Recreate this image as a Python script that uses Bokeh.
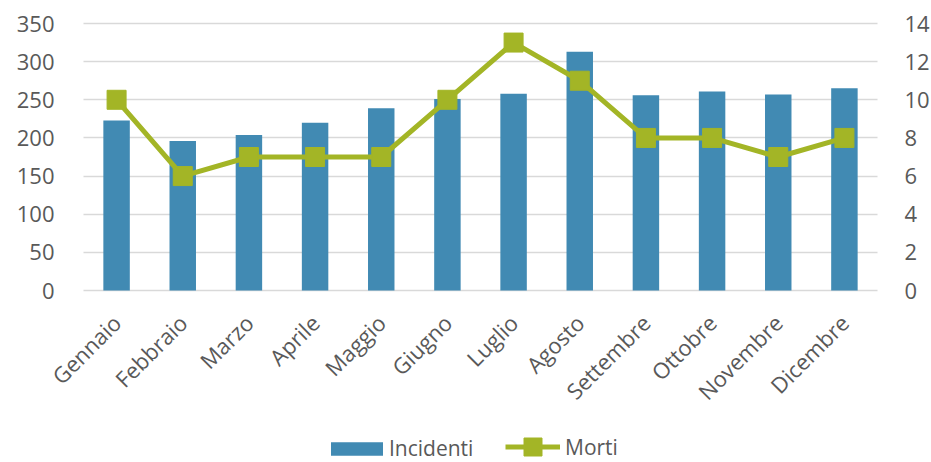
from bokeh.plotting import figure
from bokeh.models import (Range1d, LinearAxis, FixedTicker, Legend, LegendItem)
from bokeh.embed import file_html
from bokeh.resources import INLINE

months = ["Gennaio", "Febbraio", "Marzo", "Aprile", "Maggio", "Giugno",
          "Luglio", "Agosto", "Settembre", "Ottobre", "Novembre", "Dicembre"]
incidenti = [223, 196, 204, 220, 239, 251, 258, 313, 256, 261, 257, 265]
morti = [10, 6, 7, 7, 7, 10, 13, 11, 8, 8, 7, 8]
left_ticks = [0, 50, 100, 150, 200, 250, 300, 350]
right_ticks = [0, 2, 4, 6, 8, 10, 12, 14]
LEFT_MAX = 350
RIGHT_MAX = 14
xs = list(range(len(months)))

BLUE = "#418ab3"
GREEN = "#a3b526"
TXT = "#595959"
FONT = "Open Sans"
FS = "22px"

# layout in pixels: whole canvas is the frame; plot area 83..877 x 23..290
W, H = 931, 462
PL, PR, PT, PB = 83, 877, 23, 290
n = len(months)
px_cat = (PR - PL) / n
x_start = -0.5 - PL / px_cat
x_end = (n - 0.5) + (W - PR) / px_cat
px_unit = (PB - PT) / LEFT_MAX
y_top = LEFT_MAX + PT / px_unit
y_bot = -(H - PB) / px_unit
k = RIGHT_MAX / LEFT_MAX

p = figure(width=W, height=H, output_backend="svg", toolbar_location=None,
           x_range=Range1d(x_start, x_end), y_range=Range1d(y_bot, y_top))
p.extra_y_ranges = {"morti": Range1d(y_bot * k, y_top * k)}
p.min_border_left = 0
p.min_border_right = 0
p.min_border_top = 0
p.min_border_bottom = 0
p.outline_line_color = None
p.background_fill_color = "white"
p.border_fill_color = "white"

bars = p.vbar(x=xs, top=incidenti, width=0.4, color=BLUE, line_color=None)
line = p.line(x=xs, y=morti, y_range_name="morti", color=GREEN, line_width=5)
pts = p.scatter(x=xs, y=morti, y_range_name="morti", marker="square",
                size=19, color=GREEN, line_color=GREEN)

def style(ax, standoff):
    ax.axis_line_color = None
    ax.major_tick_line_color = None
    ax.minor_tick_line_color = None
    ax.major_label_text_font = FONT
    ax.major_label_text_font_size = FS
    ax.major_label_text_color = TXT
    ax.major_label_standoff = standoff

# x axis at zero line
p.xaxis.fixed_location = 0
p.xaxis.ticker = FixedTicker(ticks=xs)
p.xaxis.major_label_overrides = {i: m for i, m in zip(xs, months)}
p.xaxis.major_label_orientation = 0.7854
style(p.xaxis[0], 22)

# left axis at left edge of the plot area
p.yaxis.fixed_location = -0.5
p.yaxis.ticker = FixedTicker(ticks=left_ticks)
style(p.yaxis[0], 23)

ra = LinearAxis(y_range_name="morti", ticker=FixedTicker(ticks=right_ticks),
                fixed_location=n - 0.5)
style(ra, 21)
p.add_layout(ra, "right")

p.xgrid.grid_line_color = None
p.ygrid.ticker = FixedTicker(ticks=left_ticks)
p.ygrid.cross_bounds = (-0.5, n - 0.5)
p.ygrid.grid_line_color = "#d9d9d9"
p.ygrid.grid_line_width = 1.5

common = dict(orientation="horizontal", padding=0, margin=0, spacing=0,
              label_text_font=FONT, label_text_font_size="21px",
              label_text_color=TXT, border_line_color=None,
              background_fill_alpha=0)
leg1 = Legend(items=[LegendItem(label="Incidenti", renderers=[bars])],
              location=(324, 0), glyph_width=65, glyph_height=17,
              label_height=18, label_standoff=0, **common)
leg2 = Legend(items=[LegendItem(label="Morti", renderers=[line, pts])],
              location=(505, -7), glyph_width=55, glyph_height=45,
              label_height=18, label_standoff=5, **common)
p.add_layout(leg1, "center")
p.add_layout(leg2, "center")

open("out.html", "w").write(file_html(p, INLINE))
